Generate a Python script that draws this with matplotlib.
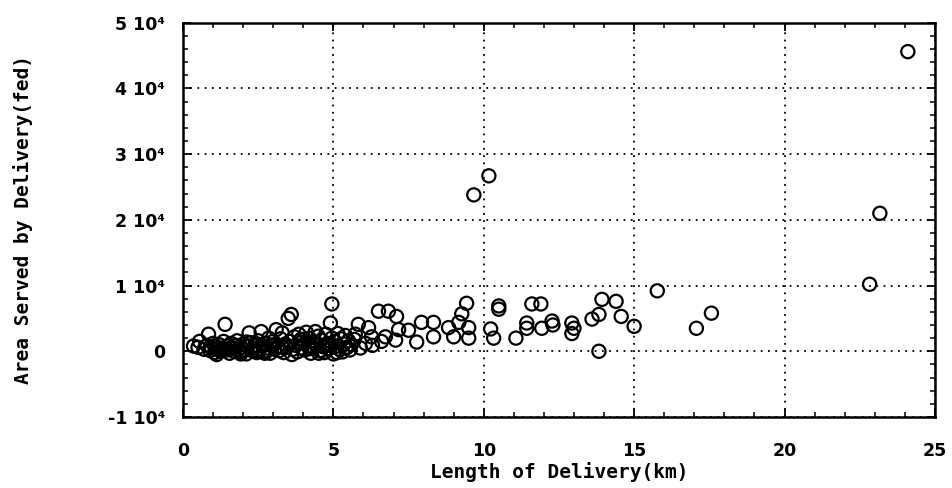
import numpy as np
import matplotlib.pyplot as plt
from matplotlib.ticker import MultipleLocator, FixedLocator, FixedFormatter

# length of delivery (km) and area served (fed)
length_km = [
    0.35, 0.5, 0.55, 0.7, 0.8, 0.85, 0.9, 0.95, 1.0,
    1.05, 1.1, 1.15, 1.2, 1.25, 1.3, 1.35, 1.4, 1.45, 1.5, 1.55, 1.6, 1.65, 1.7, 1.75, 1.8, 1.85, 1.9, 1.95,
    2.0, 2.05, 2.1, 2.15, 2.2, 2.25, 2.3, 2.35, 2.4, 2.45, 2.5, 2.55, 2.6, 2.65, 2.7, 2.75, 2.8, 2.85, 2.9, 2.95,
    3.0, 3.05, 3.1, 3.15, 3.2, 3.25, 3.3, 3.35, 3.4, 3.45, 3.5, 3.55, 3.6, 3.65, 3.7, 3.75, 3.8, 3.85, 3.9, 3.95,
    4.0, 4.05, 4.1, 4.15, 4.2, 4.25, 4.3, 4.35, 4.4, 4.45, 4.5, 4.55, 4.6, 4.65, 4.7, 4.75, 4.8, 4.85, 4.9, 4.95, 4.95, 5.0,
    5.05, 5.1, 5.15, 5.2, 5.25, 5.3, 5.35, 5.4, 5.45, 5.5, 5.55, 5.6, 5.7,
    1.12, 1.32, 1.62, 1.92, 2.12, 2.42, 2.72, 3.02, 3.32, 3.62, 3.92, 4.22, 4.52, 4.82, 5.12, 5.42,
    5.73, 5.83, 5.9, 6.07, 6.17, 6.27, 6.3, 6.5, 6.6, 6.73, 6.83, 7.07, 7.1, 7.17, 7.5, 7.77, 7.93,
    8.33, 8.33, 8.83, 9.0, 9.17, 9.27, 9.43, 9.5, 9.5, 9.67, 10.17, 10.23, 10.33, 10.5, 10.5,
    11.07, 11.43, 11.43, 11.6, 11.9, 11.93, 12.27, 12.3, 12.93, 12.93, 13.0, 13.6, 13.83, 13.83,
    13.93, 14.4, 14.57, 15.0, 15.77, 17.07, 17.57, 22.83, 23.17, 24.1,
]
area_fed = [
    800, 600, 1500, 300, 900, 2600, 100, 500, 1200,
    -200, 700, 300, 1000, 0, 500, 1500, 4100, 200, 800, -300, 1200, 400, 0, 900, 1600, 300, -100, 600,
    1100, 200, -400, 700, 2800, 1300, 100, 500, 900, -200, 1600, 400, 3000, 800, 0, 1200, 500, 2000, -300, 900,
    1500, 300, 3300, 700, 100, 1900, 2800, -200, 1100, 600, 5000, 1500, 5600, 300, 2200, 900, -100, 2600, 1300, 500,
    1800, 200, 2900, 800, 2000, -300, 1400, 600, 3000, 1000, 2300, 100, 1700, 700, -200, 2600, 1200, 400, 4300, 7200, 2000, -400,
    1500, 800, 2700, 300, 1900, -100, 1100, 2400, 600, 1600, 200, 1000, 1800,
    -500, 200, 600, -400, 1400, 100, -300, 1000, 600, -500, 1800, 400, -300, 900, -200, 500,
    2600, 4100, 500, 1200, 3600, 2200, 900, 6100, 1500, 2200, 6100, 1700, 5300, 3300, 3200, 1400, 4400,
    4400, 2200, 3600, 2200, 4400, 5700, 7300, 3600, 2000, 23800, 26700, 3400, 2000, 6900, 6400,
    2000, 4300, 3500, 7200, 7200, 3500, 4600, 4000, 4300, 2700, 3500, 4900, 5600, 0,
    7900, 7600, 5300, 3800, 9200, 3500, 5800, 10200, 21000, 45600,
]

y_ticks = [-10000, 0, 10000, 20000, 30000, 40000, 50000]
y_tick_labels = ['-1 10\u2074', '0', '1 10\u2074', '2 10\u2074', '3 10\u2074', '4 10\u2074', '5 10\u2074']
x_ticks = [0, 5, 10, 15, 20, 25]

fig = plt.figure(figsize=(9.53, 4.88), dpi=100)
ax = fig.add_axes([0.192, 0.1455, 0.789, 0.808])

ax.scatter(length_km, area_fed, s=90, facecolors='none', edgecolors='black',
           linewidths=1.6, zorder=3)

ax.set_xlim(0, 25)
ax.set_ylim(-10000, 50000)

ax.xaxis.set_major_locator(FixedLocator(x_ticks))
ax.xaxis.set_minor_locator(MultipleLocator(1))
ax.yaxis.set_major_locator(FixedLocator(y_ticks))
ax.yaxis.set_major_formatter(FixedFormatter(y_tick_labels))
ax.yaxis.set_minor_locator(MultipleLocator(2000))

ax.tick_params(which='both', direction='in', top=True, right=True, color='black')
ax.tick_params(which='major', length=6, width=1.3)
ax.tick_params(which='minor', length=3.5, width=1.1)
ax.tick_params(axis='x', which='major', pad=18)
ax.tick_params(axis='y', which='major', pad=13)

for lab in ax.get_xticklabels() + ax.get_yticklabels():
    lab.set_fontweight('bold')
    lab.set_fontsize(12.5)

ax.grid(True, which='major', color='black', linestyle=(0, (1, 3)), linewidth=1.3)

for sp in ax.spines.values():
    sp.set_linewidth(1.8)

ax.set_xlabel('Length of Delivery(km)', family='DejaVu Sans Mono',
              fontweight='bold', fontsize=14)
ax.set_ylabel('Area Served by Delivery(fed)', family='DejaVu Sans Mono',
              fontweight='bold', fontsize=14)
ax.xaxis.set_label_coords(0.5, -0.115)
ax.yaxis.set_label_coords(-0.2, 0.5)

fig.savefig('out.png', dpi=100)
